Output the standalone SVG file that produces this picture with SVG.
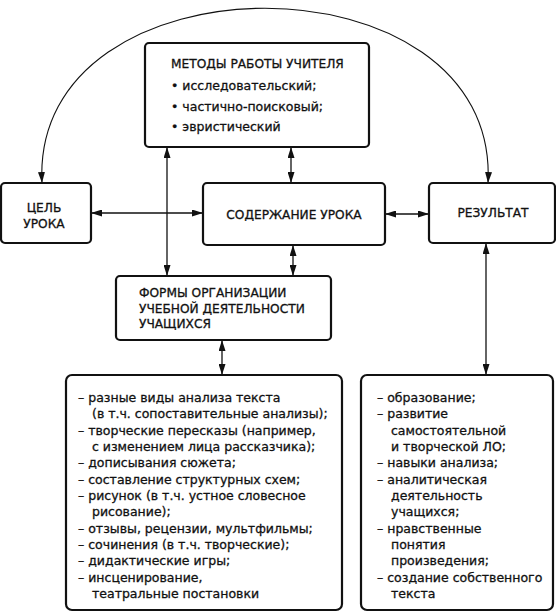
<svg xmlns="http://www.w3.org/2000/svg" width="556" height="612" viewBox="0 0 556 612">
<defs>
<marker id="ah" viewBox="0 0 11 7" refX="11" refY="3.5" markerWidth="11" markerHeight="7" markerUnits="userSpaceOnUse" orient="auto-start-reverse">
<path d="M0,0 L11,3.5 L0,7 Z" fill="#111"/>
</marker>
<style>
.box{fill:#fff;stroke:#111;stroke-width:2.2}
.con{fill:none;stroke:#111;stroke-width:1.3;marker-start:url(#ah);marker-end:url(#ah)}
.arc{fill:none;stroke:#111;stroke-width:1.1;marker-start:url(#ah);marker-end:url(#ah)}
.cap{font-family:"DejaVu Sans",sans-serif;font-size:12.2px;fill:#111;stroke:#111;stroke-width:0.3}
.low{font-family:"DejaVu Sans",sans-serif;font-size:12.5px;fill:#111;stroke:#111;stroke-width:0.3}
</style>
</defs>
<rect width="556" height="612" fill="#fff"/>
<g id="connectors">
<path class="arc" d="M42,183 C30,-50 500,-50 488,183"/>
<line class="con" x1="91" y1="213" x2="203" y2="213"/>
<line class="con" x1="385" y1="214" x2="429" y2="214"/>
<line class="con" x1="291" y1="147" x2="291" y2="183"/>
<line class="con" x1="167" y1="147" x2="167" y2="276"/>
<line class="con" x1="293" y1="245" x2="293" y2="276"/>
<line class="con" x1="222" y1="340" x2="222" y2="375"/>
<line class="con" x1="486" y1="243" x2="486" y2="375"/>
</g>
<g id="metody">
<rect class="box" x="145" y="43" width="224" height="104" rx="4"/>
<text class="cap" x="171" y="68">МЕТОДЫ РАБОТЫ УЧИТЕЛЯ</text>
<text class="low" x="171" y="90">• исследовательский;</text>
<text class="low" x="171" y="111">• частично-поисковый;</text>
<text class="low" x="171" y="131">• эвристический</text>
</g>
<g id="cel">
<rect class="box" x="1" y="183" width="90" height="60" rx="4"/>
<text class="cap" x="44" y="212" text-anchor="middle">ЦЕЛЬ</text>
<text class="cap" x="44" y="228" text-anchor="middle">УРОКА</text>
</g>
<g id="soderzhanie">
<rect class="box" x="203" y="183" width="182" height="62" rx="4"/>
<text class="cap" x="294" y="219" text-anchor="middle">СОДЕРЖАНИЕ УРОКА</text>
</g>
<g id="rezultat">
<rect class="box" x="429" y="183" width="126" height="60" rx="4"/>
<text class="cap" x="493" y="217" text-anchor="middle">РЕЗУЛЬТАТ</text>
</g>
<g id="formy">
<rect class="box" x="116" y="276" width="215" height="64" rx="4"/>
<text class="cap" x="139" y="297">ФОРМЫ ОРГАНИЗАЦИИ</text>
<text class="cap" x="139" y="313">УЧЕБНОЙ ДЕЯТЕЛЬНОСТИ</text>
<text class="cap" x="139" y="328">УЧАЩИХСЯ</text>
</g>
<g id="formy-list">
<rect class="box" x="66" y="375" width="276" height="235" rx="6"/>
<text class="low" x="78" y="402">– разные виды анализа текста</text>
<text class="low" x="92" y="418.3">(в т.ч. сопоставительные анализы);</text>
<text class="low" x="78" y="434.7">– творческие пересказы (например,</text>
<text class="low" x="92" y="451">с изменением лица рассказчика);</text>
<text class="low" x="78" y="467.3">– дописывания сюжета;</text>
<text class="low" x="78" y="483.7">– составление структурных схем;</text>
<text class="low" x="78" y="500">– рисунок (в т.ч. устное словесное</text>
<text class="low" x="92" y="516.3">рисование);</text>
<text class="low" x="78" y="532.7">– отзывы, рецензии, мультфильмы;</text>
<text class="low" x="78" y="549">– сочинения (в т.ч. творческие);</text>
<text class="low" x="78" y="565.3">– дидактические игры;</text>
<text class="low" x="78" y="581.7">– инсценирование,</text>
<text class="low" x="92" y="598">театральные постановки</text>
</g>
<g id="rezultat-list">
<rect class="box" x="361" y="375" width="192" height="235" rx="6"/>
<text class="low" x="377" y="402">– образование;</text>
<text class="low" x="377" y="418.3">– развитие</text>
<text class="low" x="391" y="434.7">самостоятельной</text>
<text class="low" x="391" y="451">и творческой ЛО;</text>
<text class="low" x="377" y="467.3">– навыки анализа;</text>
<text class="low" x="377" y="483.7">– аналитическая</text>
<text class="low" x="391" y="500">деятельность</text>
<text class="low" x="391" y="516.3">учащихся;</text>
<text class="low" x="377" y="532.7">– нравственные</text>
<text class="low" x="391" y="549">понятия</text>
<text class="low" x="391" y="565.3">произведения;</text>
<text class="low" x="377" y="581.7">– создание собственного</text>
<text class="low" x="391" y="598">текста</text>
</g>
</svg>
